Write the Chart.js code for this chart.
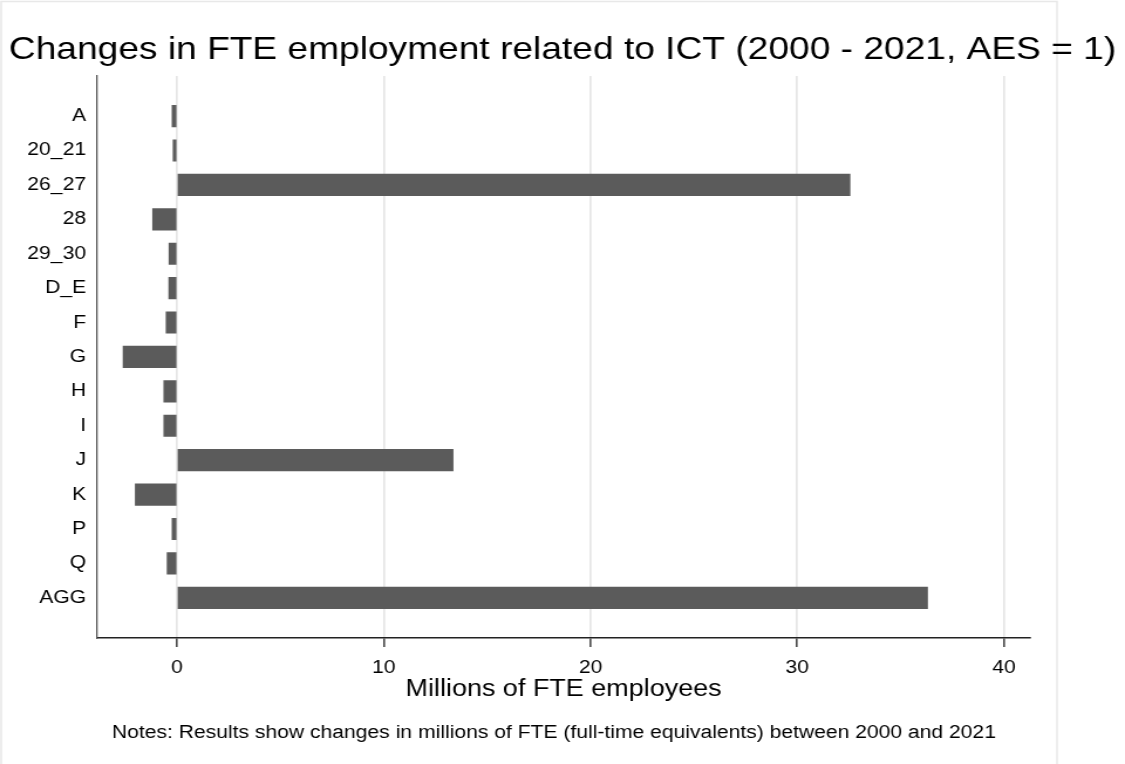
<!DOCTYPE html>
<html>
<head>
<meta charset="utf-8">
<script src="https://cdn.jsdelivr.net/npm/chart.js@4/dist/chart.umd.min.js"></script>
<style>
  html, body { margin: 0; padding: 0; background: #fff; overflow: hidden; }
  /* the reference looks horizontally stretched, so draw narrower and scale x */
  #wrap { width: 960px; height: 764px; transform: scaleX(1.171875); transform-origin: 0 0; }
</style>
</head>
<body>
<div id="wrap"><canvas id="myChart"></canvas></div>
<script>
const TITLE = 'Changes in FTE employment related to ICT (2000 - 2021, AES = 1)';
const X_TITLE = 'Millions of FTE employees';
const NOTES = 'Notes: Results show changes in millions of FTE (full-time equivalents) between 2000 and 2021';

const categories = ['A', '20_21', '26_27', '28', '29_30', 'D_E', 'F', 'G', 'H', 'I', 'J', 'K', 'P', 'Q', 'AGG'];
const changes = [-0.24, -0.19, 32.55, -1.18, -0.39, -0.40, -0.53, -2.61, -0.64, -0.64, 13.35, -2.02, -0.24, -0.48, 36.3];
const xTicks = [0, 10, 20, 30, 40];

const FONT = 'Arial, "Liberation Sans", Helvetica, sans-serif';

// frame, title and notes
const textPlugin = {
    id: 'textPlugin',
    beforeDraw(chart) {
        const ctx = chart.ctx;
        ctx.save();
        ctx.strokeStyle = '#e8e8e8';
        ctx.lineWidth = 1.5;
        ctx.strokeRect(1, 1.5, 901, 780);
        ctx.restore();
    },
    afterDraw(chart) {
        const ctx = chart.ctx;
        ctx.save();
        ctx.fillStyle = '#000';
        ctx.textAlign = 'center';
        ctx.textBaseline = 'middle';
        ctx.font = '31.7px ' + FONT;
        ctx.fillText(TITLE, 480, 50);
        ctx.font = '18px ' + FONT;
        ctx.fillText(NOTES, 472.7, 733);
        ctx.restore();
    }
};

const data = {
    datasets: [{
        data: changes.map((v, i) => ({ x: v, y: i })),
        backgroundColor: '#5b5b5b',
        borderWidth: 0,
        barThickness: 21.5
    }]
};

var myChart = new Chart(document.getElementById('myChart').getContext('2d'), {
    type: 'bar',
    data: data,
    plugins: [textPlugin],
    options: {
        indexAxis: 'y',
        responsive: true,
        maintainAspectRatio: false,
        animation: false,
        layout: { padding: { top: 76, right: 81, bottom: 0, left: 0 } },
        plugins: {
            legend: { display: false },
            tooltip: { enabled: false }
        },
        scales: {
            x: {
                type: 'linear',
                min: -3.87,
                max: 41.26,
                afterFit(scale) { scale.height = 126; },
                afterBuildTicks(scale) {
                    scale.ticks = xTicks.map(v => ({ value: v }));
                },
                ticks: {
                    stepSize: 10,
                    includeBounds: false,
                    padding: 10.2,
                    color: '#000',
                    font: { family: FONT, size: 18 }
                },
                grid: {
                    color: '#e6e6e6',
                    lineWidth: 1.7,
                    tickLength: 9,
                    tickColor: '#222',
                    tickWidth: 1.3
                },
                border: { display: true, color: '#222', width: 1.5 },
                title: {
                    display: true,
                    text: X_TITLE,
                    color: '#000',
                    font: { family: FONT, size: 23 },
                    padding: { top: 0, bottom: 60.2 }
                }
            },
            y: {
                type: 'linear',
                reverse: true,
                offset: false,
                min: -1.165,
                max: 15.168,
                afterFit(scale) { scale.width = 82.8; },
                afterBuildTicks(scale) {
                    scale.ticks = categories.map((c, i) => ({ value: i }));
                },
                ticks: {
                    stepSize: 1,
                    autoSkip: false,
                    padding: 9.4,
                    color: '#000',
                    font: { family: FONT, size: 18 },
                    callback: (v) => categories[v] ?? ''
                },
                grid: { display: false, drawTicks: false, tickLength: 0, offset: false },
                border: { display: true, color: '#555', width: 1.3 }
            }
        }
    }
});
</script>
</body>
</html>
